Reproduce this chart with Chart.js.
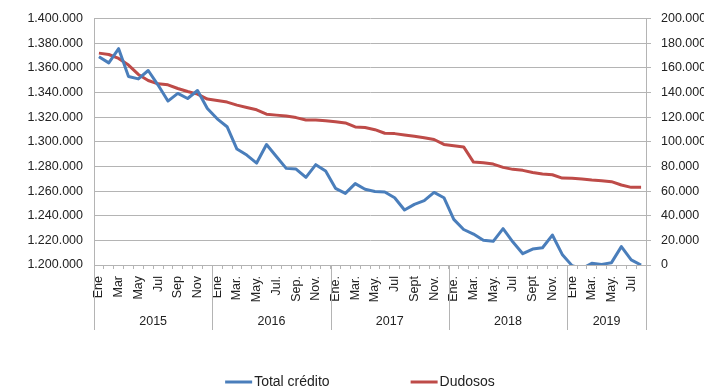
<!DOCTYPE html>
<html>
<head>
<meta charset="utf-8">
<script src="https://cdn.jsdelivr.net/npm/chart.js@4"></script>
<style>
  html, body { margin: 0; padding: 0; background: #fff; }
</style>
</head>
<body>
<canvas id="myChart" width="704" height="387"></canvas>
<script>
// monthly labels, only every other month is shown (like the original)
const tickLabels = [
  'Ene', '', 'Mar', '', 'May', '', 'Jul', '', 'Sep', '', 'Nov', '',
  'Ene', '', 'Mar.', '', 'May.', '', 'Jul.', '', 'Sep.', '', 'Nov.', '',
  'Ene.', '', 'Mar.', '', 'May.', '', 'Jul', '', 'Sept', '', 'Nov.', '',
  'Ene.', '', 'Mar.', '', 'May.', '', 'Jul', '', 'Sept', '', 'Nov.', '',
  'Ene', '', 'Mar.', '', 'May.', '', 'Jul', ''
];
const years = ['2015', '2016', '2017', '2018', '2019'];
const monthsPerYear = [12, 12, 12, 12, 8];

const totalCredito = [
  1369000, 1364000, 1375500, 1353000, 1351000, 1357800, 1346000, 1333000, 1339200, 1335100, 1341600, 1327000,
  1318600, 1312200, 1294100, 1289200, 1282700, 1297800, 1288000, 1278400, 1277800, 1271100, 1281400, 1276200,
  1262200, 1258100, 1266000, 1261400, 1259700, 1259200, 1254600, 1244600, 1249200, 1252200, 1258900, 1254600,
  1237000, 1228800, 1225100, 1220000, 1219200, 1229500, 1218600, 1209200, 1212900, 1214000, 1224300, 1208600,
  1199500, 1197000, 1201400, 1200500, 1201900, 1214900, 1204100, 1200000
];
const dudosos = [
  171900, 170800, 167600, 162200, 154600, 149700, 147000, 146200, 143200, 140800, 138600, 134600,
  133500, 132200, 129700, 127800, 125900, 122400, 121600, 120900, 119600, 117700, 117700, 117000,
  116300, 115300, 112000, 111500, 109800, 106900, 106600, 105500, 104500, 103300, 101800, 97800,
  96800, 95800, 83500, 83000, 81900, 79200, 77600, 76800, 75100, 73800, 73200, 70500,
  70300, 69700, 68900, 68400, 67600, 64900, 63000, 63000
];

const axisColor = '#b4b4b4';
const textColor = '#222';

function fmt(v) {
  return String(v).replace(/\B(?=(\d{3})+(?!\d))/g, '.');
}

// second row of the x axis (years) + legend drawn at the bottom
const extras = {
  id: 'extras',
  afterDraw(chart) {
    const ctx = chart.ctx;
    const xs = chart.scales.x;
    const area = chart.chartArea;
    const step = xs.getPixelForValue(1) - xs.getPixelForValue(0);
    ctx.save();
    ctx.strokeStyle = axisColor;
    ctx.lineWidth = 1;
    ctx.fillStyle = textColor;
    ctx.font = '12.5px "Liberation Sans", Arial, sans-serif';
    ctx.textAlign = 'center';
    ctx.textBaseline = 'middle';

    let start = 0;
    const sep = (x) => {
      const px = Math.round(x) + 0.5;
      ctx.beginPath();
      ctx.moveTo(px, area.bottom);
      ctx.lineTo(px, area.bottom + 65);
      ctx.stroke();
    };
    years.forEach((yr, k) => {
      const end = start + monthsPerYear[k] - 1;
      const x0 = xs.getPixelForValue(start) - step / 2;
      const x1 = xs.getPixelForValue(end) + step / 2;
      sep(x0);
      if (k === years.length - 1) sep(x1);
      ctx.fillText(yr, (x0 + x1) / 2, area.bottom + 57);
      start = end + 1;
    });

    // legend
    ctx.font = '14px "Liberation Sans", Arial, sans-serif';
    ctx.textAlign = 'left';
    const lineLen = 27, gapText = 2, gapItem = 81;
    const items = chart.data.datasets.map(ds => ({
      label: ds.label, color: ds.borderColor, w: ctx.measureText(ds.label).width
    }));
    let total = 0;
    items.forEach((it, i) => { total += lineLen + gapText + it.w + (i ? gapItem : 0); });
    let x = (chart.width - total) / 2 + 8;
    const y = 382;
    items.forEach(it => {
      ctx.strokeStyle = it.color;
      ctx.lineWidth = 3;
      ctx.beginPath();
      ctx.moveTo(x, y);
      ctx.lineTo(x + lineLen, y);
      ctx.stroke();
      ctx.fillText(it.label, x + lineLen + gapText, y);
      x += lineLen + gapText + it.w + gapItem;
    });
    ctx.restore();
  }
};

Chart.defaults.font.family = '"Liberation Sans", Arial, sans-serif';
Chart.defaults.font.size = 12.5;
Chart.defaults.color = textColor;

let myChart = new Chart('myChart', {
  type: 'line',
  data: {
    labels: tickLabels,
    datasets: [
      {
        label: 'Total crédito',
        data: totalCredito,
        yAxisID: 'y',
        borderColor: '#4a7ebb',
        borderWidth: 3,
        pointRadius: 0,
        tension: 0,
        borderJoinStyle: 'round'
      },
      {
        label: 'Dudosos',
        data: dudosos,
        yAxisID: 'y1',
        borderColor: '#be4b48',
        borderWidth: 3,
        pointRadius: 0,
        tension: 0,
        borderJoinStyle: 'round'
      }
    ]
  },
  options: {
    responsive: false,
    animation: false,
    layout: { padding: { top: 18, left: 0, right: 0, bottom: 0 } },
    plugins: {
      legend: { display: false },
      tooltip: { enabled: false }
    },
    scales: {
      x: {
        offset: true,
        grid: {
          offset: true,
          drawOnChartArea: false,
          tickLength: 4,
          color: axisColor
        },
        border: { color: axisColor },
        ticks: {
          autoSkip: false,
          minRotation: 90,
          maxRotation: 90,
          padding: 7
        },
        afterFit: (s) => { s.height = 122; }
      },
      y: {
        position: 'left',
        min: 1200000,
        max: 1400000,
        grid: { color: axisColor, drawTicks: false },
        border: { color: axisColor },
        ticks: {
          stepSize: 20000,
          padding: 11,
          callback: (v) => fmt(v)
        },
        afterFit: (s) => { s.width = 94; }
      },
      y1: {
        position: 'right',
        min: 0,
        max: 200000,
        grid: { drawOnChartArea: false, tickLength: 5, color: axisColor },
        border: { color: axisColor },
        ticks: {
          stepSize: 20000,
          padding: 10,
          callback: (v) => fmt(v)
        },
        afterFit: (s) => { s.width = 58; }
      }
    }
  },
  plugins: [extras]
});
</script>
</body>
</html>
